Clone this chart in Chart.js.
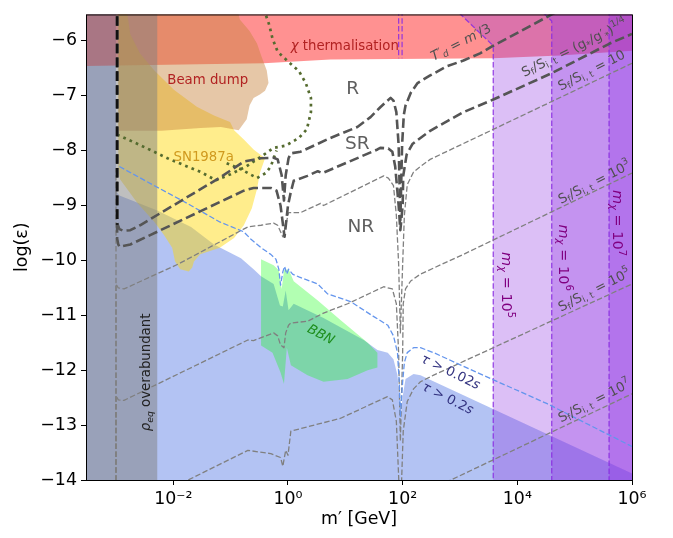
<!DOCTYPE html>
<html>
<head>
<meta charset="utf-8">
<script src="https://cdn.jsdelivr.net/npm/chart.js@4.4.1/dist/chart.umd.min.js"></script>
<style>
  body { margin: 0; background: #fff; }
  canvas { display: block; }
</style>
</head>
<body>
<canvas id="myChart" width="673" height="538"></canvas>
<script>
// every curve is a list of [log10(m' / GeV), log10(eps)] pairs
const xTickExp = [-2, 0, 2, 4, 6];
const yTicks = [-14, -13, -12, -11, -10, -9, -8, -7, -6];

const tauRegion = [[-3.6,-5.3],[-3.0,-5.3],[-3.0,-8.73],[-2.94,-8.82],[-2.28,-9.09],[-1.69,-9.39],[-1.29,-9.71],[-0.82,-9.96],[-0.60,-10.16],[-0.47,-10.29],[-0.25,-10.43],[-0.14,-10.82],[-0.09,-10.84],[-0.04,-10.55],[0.01,-10.91],[0.10,-10.79],[0.62,-11.05],[1.32,-11.45],[1.56,-11.63],[1.74,-11.68],[1.84,-11.80],[1.91,-12.09],[1.94,-12.48],[1.96,-12.89],[2.00,-12.48],[2.05,-12.16],[2.19,-12.07],[2.31,-12.09],[6.0,-13.88],[6.2,-13.97],[6.2,-14.3],[-3.6,-14.3]];
const thermRegion = [[-3.6,-6.46],[-3.5,-6.46],[-0.42,-6.41],[0.74,-6.34],[3.58,-6.32],[4.74,-6.27],[6.0,-6.18],[6.2,-6.14],[6.2,-5.3],[-3.6,-5.3]];
const beamDump = [[-2.96,-5.3],[-2.96,-7.64],[-2.21,-7.64],[-1.52,-7.59],[-1.17,-7.57],[-0.86,-7.63],[-0.72,-7.43],[-0.67,-7.18],[-0.60,-7.04],[-0.49,-6.98],[-0.40,-6.91],[-0.34,-6.77],[-0.37,-6.54],[-0.46,-6.29],[-0.54,-6.05],[-0.67,-5.82],[-0.84,-5.61],[-0.91,-5.3]];
const sn1987a = [[-2.96,-5.3],[-2.96,-8.34],[-2.93,-8.52],[-2.63,-8.95],[-2.33,-9.30],[-2.16,-9.54],[-2.02,-9.77],[-1.97,-10.02],[-1.88,-10.16],[-1.73,-10.20],[-1.67,-10.13],[-1.64,-10.02],[-1.53,-9.89],[-1.19,-9.77],[-0.94,-9.59],[-0.77,-9.36],[-0.63,-9.05],[-0.54,-8.70],[-0.49,-8.41],[-0.40,-8.14],[-0.60,-7.98],[-0.77,-7.80],[-0.94,-7.63],[-1.01,-7.48],[-1.29,-7.36],[-1.59,-7.20],[-1.99,-6.89],[-2.33,-6.54],[-2.58,-6.23],[-2.75,-5.88],[-2.80,-5.52],[-2.82,-5.3]];
const bbnRegion = [[-0.47,-9.98],[-0.25,-10.09],[-0.16,-10.18],[-0.11,-10.52],[-0.07,-10.18],[0.01,-10.16],[0.10,-10.38],[0.52,-10.73],[0.92,-11.09],[1.39,-11.50],[1.56,-11.68],[1.56,-11.95],[1.39,-12.00],[1.04,-12.16],[0.62,-12.21],[0.34,-12.09],[0.05,-11.91],[-0.02,-11.59],[-0.07,-12.25],[-0.13,-12.04],[-0.27,-11.68],[-0.47,-11.55]];
const rhoBand = [[-3.6,-14.3],[-3.6,-5.3],[-2.28,-5.3],[-2.28,-14.3],[-3.6,-14.3]];
const mchi5Band = [[2.79,-5.3],[3.58,-6.09],[3.58,-14.3],[6.2,-14.3],[6.2,-5.3],[2.79,-5.3]];
const mchi6Band = [[4.26,-5.3],[4.60,-5.64],[4.60,-14.3],[6.2,-14.3],[6.2,-5.3],[4.26,-5.3]];
const mchi7Band = [[5.60,-5.3],[5.60,-14.3],[6.2,-14.3],[6.2,-5.3],[5.60,-5.3]];
const zMarkA = [[1.93,-5.3],[1.93,-6.32]];
const zMarkB = [[1.99,-5.3],[1.99,-6.32]];

const lineR = [[-2.98,-5.3],[-2.98,-9.32],[-2.94,-9.43],[-2.87,-9.46],[-2.75,-9.45],[-2.58,-9.36],[-1.20,-8.50],[-0.77,-8.20],[-0.47,-8.14],[-0.25,-8.13],[-0.18,-8.16],[-0.11,-8.45],[-0.07,-8.91],[-0.04,-8.45],[0.01,-8.14],[0.05,-8.05],[0.22,-8.02],[0.74,-7.77],[1.21,-7.57],[1.44,-7.39],[1.61,-7.21],[1.79,-7.04],[1.84,-7.09],[1.89,-7.30],[1.93,-7.9],[1.96,-9.27],[1.99,-7.9],[2.02,-7.35],[2.05,-7.18],[2.14,-6.95],[2.26,-6.77],[2.48,-6.63],[2.78,-6.46],[3.06,-6.36],[3.35,-6.23],[3.58,-6.09],[4.60,-5.52],[5.2,-5.2]];
const lineSR = [[-2.98,-5.3],[-2.98,-9.6],[-2.96,-9.71],[-2.94,-9.75],[-2.75,-9.71],[-0.77,-8.73],[-0.60,-8.68],[-0.30,-8.68],[-0.20,-8.73],[-0.13,-9.0],[-0.06,-9.57],[0.0,-9.0],[0.05,-8.75],[0.10,-8.55],[0.34,-8.46],[0.52,-8.375],[0.60,-8.41],[1.56,-7.98],[1.61,-7.95],[1.75,-7.96],[1.82,-8.02],[1.87,-8.29],[1.93,-9.0],[1.96,-9.45],[2.00,-9.0],[2.01,-8.46],[2.07,-8.07],[2.17,-7.88],[2.31,-7.77],[2.48,-7.64],[3.06,-7.30],[3.58,-7.07],[4.60,-6.59],[5.61,-6.05],[6.0,-5.875]];
const s10 = [[-3.0,-14.3],[-3.0,-10.43],[-2.96,-10.5],[-2.86,-10.52],[-1.92,-10.07],[-0.70,-9.39],[-0.47,-9.36],[-0.25,-9.32],[-0.18,-9.36],[-0.09,-9.57],[-0.04,-9.36],[0.01,-9.13],[0.22,-9.13],[0.57,-8.96],[0.62,-9.0],[1.67,-8.46],[1.75,-8.5],[1.84,-8.64],[1.89,-9.18],[1.93,-10.07],[1.96,-11.32],[2.00,-10.07],[2.03,-9.18],[2.08,-8.62],[2.19,-8.39],[2.31,-8.29],[2.48,-8.16],[6.0,-6.41]];
const s1e3 = [[-3.0,-14.3],[-3.0,-12.46],[-2.96,-12.54],[-2.86,-12.55],[-0.70,-11.45],[-0.60,-11.46],[-0.25,-11.32],[-0.18,-11.375],[-0.13,-11.54],[-0.07,-11.59],[-0.04,-11.32],[0.01,-11.18],[0.05,-11.14],[0.34,-11.11],[0.62,-10.96],[1.04,-10.79],[1.67,-10.48],[1.82,-10.52],[1.89,-10.79],[1.93,-11.68],[1.96,-13.29],[2.00,-11.68],[2.01,-10.79],[2.05,-10.52],[2.14,-10.375],[2.31,-10.25],[3.06,-9.89],[6.0,-8.41]];
const s1e5 = [[-2.73,-14.5],[-1.74,-14.0],[-0.70,-13.46],[-0.30,-13.52],[-0.13,-13.59],[-0.09,-13.75],[-0.04,-13.46],[0.0,-13.55],[0.05,-13.11],[0.92,-12.875],[1.735,-12.48],[1.82,-12.54],[1.89,-12.93],[1.96,-14.7],[2.01,-13.11],[2.08,-12.57],[2.19,-12.34],[2.31,-12.21],[2.54,-12.09],[6.0,-10.43]];
const s1e7 = [[2.5,-14.17],[6.0,-12.43]];
const lowMassEdge = [[-3.0,-14.3],[-3.0,-8.32]];
const blackEdge = [[-2.98,-5.3],[-2.98,-9.35]];
const tauShort = [[-2.94,-8.29],[-2.33,-8.64],[-1.76,-8.96],[-1.19,-9.30],[-0.77,-9.48],[-0.65,-9.61],[-0.47,-9.77],[-0.30,-9.89],[-0.21,-9.98],[-0.16,-10.16],[-0.13,-10.45],[-0.09,-10.21],[-0.06,-10.11],[-0.02,-10.25],[0.01,-10.16],[0.08,-10.25],[0.19,-10.30],[0.52,-10.43],[0.69,-10.61],[1.09,-10.75],[1.49,-11.02],[1.74,-11.18],[1.84,-11.375],[1.91,-11.68],[1.94,-12.21],[1.96,-12.84],[2.0,-12.21],[2.03,-11.86],[2.08,-11.68],[2.19,-11.59],[2.31,-11.59],[2.54,-11.68],[3.40,-12.09],[4.52,-12.61],[6.0,-13.39]];
const greenDot1 = [[-2.98,-7.71],[-2.63,-7.875],[-2.06,-8.16],[-1.52,-8.39],[-1.26,-8.54],[-1.00,-8.43],[-0.73,-8.29],[-0.47,-8.11],[-0.25,-7.95],[-0.04,-7.91],[0.19,-7.77],[0.33,-7.61],[0.40,-7.30],[0.40,-7.04],[0.31,-6.77],[0.19,-6.55],[0.0,-6.375],[-0.18,-6.20],[-0.27,-5.96],[-0.33,-5.70],[-0.39,-5.52],[-0.40,-5.39]];
const greenDot2 = [[-1.07,-8.23],[-0.82,-8.34],[-0.54,-8.5],[-0.39,-8.41],[-0.30,-8.29],[-0.25,-8.14],[-0.20,-8.0]];

// text labels: parts are [text, ''|'b'(sub)|'p'(sup), italic]
const sRatio = [['S'], ['f', 'b'], ['/S'], ['i, t', 'b']];
const plotLabels = [
    {parts: [['χ', '', 1], [' thermalisation']], at: [0.99, -6.11], size: 13.3, color: '#b22222'},
    {parts: [['Beam dump']], at: [-1.40, -6.73], size: 13.3, color: '#b22222'},
    {parts: [['SN1987a']], at: [-1.47, -8.125], size: 13.3, color: '#d09a1e'},
    {parts: [['R']], at: [1.13, -6.89], size: 18.5, color: '#5f5f5f'},
    {parts: [['SR']], at: [1.21, -7.89], size: 18.5, color: '#5f5f5f'},
    {parts: [['NR']], at: [1.27, -9.39], size: 18.5, color: '#5f5f5f'},
    {parts: [['BBN', '', 1]], at: [0.57, -11.36], size: 13.3, color: '#1f8f1f', angle: 28},
    {parts: [['τ', '', 1], [' > 0.02'], ['s', '', 1]], at: [2.83, -12.04], size: 13.3, color: '#333380', angle: 26},
    {parts: [['τ', '', 1], [' > 0.2'], ['s', '', 1]], at: [2.78, -12.52], size: 13.3, color: '#333380', angle: 27},
    {parts: [['T′', '', 1], ['d', 'b', 1], [' = ', ''], ['m′', '', 1], ['/3']], at: [3.02, -6.04], size: 13.3, color: '#505050', angle: -27},
    {parts: sRatio.concat([[' = (g'], ['*', 'b'], ['/g′'], ['*', 'b'], [')'], ['1/4', 'p']]), at: [5.00, -6.14], size: 13.3, color: '#505050', angle: -26},
    {parts: sRatio.concat([[' = 10']]), at: [5.30, -6.55], size: 13.3, color: '#505050', angle: -27},
    {parts: sRatio.concat([[' = 10'], ['3', 'p']]), at: [5.35, -8.59], size: 13.3, color: '#505050', angle: -27},
    {parts: sRatio.concat([[' = 10'], ['5', 'p']]), at: [5.35, -10.55], size: 13.3, color: '#505050', angle: -27},
    {parts: sRatio.concat([[' = 10'], ['7', 'p']]), at: [5.35, -12.57], size: 13.3, color: '#505050', angle: -27},
    {parts: [['m', '', 1], ['χ', 'b', 1], [' = 10'], ['5', 'p']], at: [3.79, -10.45], size: 14.5, color: '#800080', angle: 90},
    {parts: [['m', '', 1], ['χ', 'b', 1], [' = 10'], ['6', 'p']], at: [4.80, -9.95], size: 14.5, color: '#800080', angle: 90},
    {parts: [['m', '', 1], ['χ', 'b', 1], [' = 10'], ['7', 'p']], at: [5.73, -9.32], size: 14.5, color: '#800080', angle: 90},
    {parts: [['ρ', '', 1], ['eq', 'b', 1], [' overabundant']], at: [-2.46, -12.04], size: 13.3, color: '#222222', angle: -90},
];

const SUP = {'-': '⁻', '0': '⁰', '1': '¹', '2': '²', '3': '³', '4': '⁴', '5': '⁵', '6': '⁶', '7': '⁷', '8': '⁸', '9': '⁹'};
const FONT = 'DejaVu Sans';

function pts(arr) {
    return arr.map(p => ({x: Math.pow(10, p[0]), y: p[1]}));
}

function area(arr, color, order) {
    return {data: pts(arr), fill: 'shape', backgroundColor: color, borderWidth: 0, pointRadius: 0, order: order};
}

function curve(arr, color, width, dash, order) {
    return {data: pts(arr), fill: false, borderColor: color, borderWidth: width, borderDash: dash,
        borderJoinStyle: 'round', pointRadius: 0, order: order};
}

function band(arr, order) {
    let ds = area(arr, 'rgba(138,43,226,0.3)', order);
    ds.borderColor = 'rgba(138,43,226,0.85)';
    ds.borderWidth = 1.3;
    ds.borderDash = [5.5, 2.4];
    return ds;
}

function drawRich(ctx, parts, x, y, size, color, angle) {
    ctx.save();
    ctx.translate(x, y);
    ctx.rotate((angle || 0) * Math.PI / 180);
    ctx.fillStyle = color;
    ctx.textBaseline = 'middle';
    ctx.textAlign = 'left';
    let w = 0;
    const items = parts.map(p => {
        const s = p[1] ? size * 0.7 : size;
        const font = (p[2] ? 'italic ' : '') + s + 'px "' + FONT + '"';
        ctx.font = font;
        const it = {t: p[0], font: font, x: w, dy: p[1] === 'b' ? size * 0.24 : (p[1] === 'p' ? -size * 0.38 : 0)};
        w += ctx.measureText(p[0]).width;
        return it;
    });
    items.forEach(it => {
        ctx.font = it.font;
        ctx.fillText(it.t, it.x - w / 2, it.dy);
    });
    ctx.restore();
}

const labelPlugin = {
    id: 'labels',
    afterDatasetsDraw(chart) {
        const ctx = chart.ctx;
        const a = chart.chartArea;
        const sx = chart.scales.x, sy = chart.scales.y;
        ctx.save();
        ctx.beginPath();
        ctx.rect(a.left, a.top, a.right - a.left, a.bottom - a.top);
        ctx.clip();
        plotLabels.forEach(lb => {
            drawRich(ctx, lb.parts, sx.getPixelForValue(Math.pow(10, lb.at[0])), sy.getPixelForValue(lb.at[1]), lb.size, lb.color, lb.angle);
        });
        ctx.restore();
        // axes box
        ctx.save();
        ctx.strokeStyle = '#000';
        ctx.lineWidth = 1;
        ctx.strokeRect(a.left + 0.5, a.top + 0.5, a.right - a.left, a.bottom - a.top);
        ctx.restore();
    }
};

const thin = [5.5, 2.4];
const thick = [9.6, 4.2];

const datasets = [
    area(tauRegion, 'rgba(65,105,225,0.4)', 100),
    area(thermRegion, 'rgba(255,0,0,0.43)', 95),
    area(sn1987a, 'rgba(255,215,0,0.45)', 90),
    area(beamDump, 'rgba(200,130,60,0.45)', 85),
    area(bbnRegion, 'rgba(0,255,0,0.3)', 80),
    band(mchi5Band, 75),
    band(mchi6Band, 74),
    band(mchi7Band, 73),
    area(rhoBand, 'rgba(128,128,128,0.5)', 70),
    curve(zMarkA, 'rgba(138,43,226,0.85)', 1.3, thin, 60),
    curve(zMarkB, 'rgba(138,43,226,0.85)', 1.3, thin, 60),
    curve(lowMassEdge, '#808080', 1.3, thin, 52),
    curve(s10, '#808080', 1.3, thin, 50),
    curve(s1e3, '#808080', 1.3, thin, 50),
    curve(s1e5, '#808080', 1.3, thin, 50),
    curve(s1e7, '#808080', 1.3, thin, 50),
    curve(tauShort, '#6495ed', 1.3, thin, 48),
    curve(greenDot1, '#556b2f', 2.7, [2.7, 4.1], 45),
    curve(greenDot2, '#556b2f', 2.7, [2.7, 4.1], 45),
    curve(lineR, '#555555', 2.6, thick, 40),
    curve(lineSR, '#555555', 2.6, thick, 40),
    curve(blackEdge, '#111111', 2.6, thick, 39),
];

const tickFont = {family: FONT, size: 17.4};

const config = {
    type: 'line',
    data: {datasets: datasets},
    options: {
        responsive: false,
        animation: false,
        events: [],
        layout: {padding: {left: 0, right: 41, top: 5, bottom: 0}},
        plugins: {legend: {display: false}, tooltip: {enabled: false}},
        scales: {
            x: {
                type: 'logarithmic',
                min: Math.pow(10, -3.5),
                max: 1e6,
                afterBuildTicks: ax => { ax.ticks = xTickExp.map(e => ({value: Math.pow(10, e)})); },
                afterFit: ax => { ax.height = 58; },
                border: {display: false},
                grid: {display: true, drawOnChartArea: false, drawTicks: true, tickLength: 5, color: '#000'},
                ticks: {
                    autoSkip: false, maxRotation: 0, padding: 4, color: '#000', font: tickFont,
                    callback: v => '10' + String(Math.round(Math.log10(v))).split('').map(c => SUP[c]).join('')
                },
                title: {display: true, text: 'm′ [GeV]', color: '#000', font: tickFont, padding: {top: 0, bottom: 8}}
            },
            y: {
                type: 'linear',
                min: -14,
                max: -5.52,
                afterBuildTicks: ax => { ax.ticks = yTicks.map(v => ({value: v})); },
                afterFit: ax => { ax.width = 86; },
                border: {display: false},
                grid: {display: true, drawOnChartArea: false, drawTicks: true, tickLength: 5, color: '#000'},
                ticks: {
                    padding: 4, color: '#000', font: tickFont,
                    callback: v => (v < 0 ? '\u2212' : '') + Math.abs(v)
                },
                title: {display: true, text: 'log(ε)', color: '#000', font: tickFont, padding: {top: 12, bottom: 0}}
            }
        }
    },
    plugins: [labelPlugin]
};

const myChart = new Chart(document.getElementById('myChart'), config);
</script>
</body>
</html>
